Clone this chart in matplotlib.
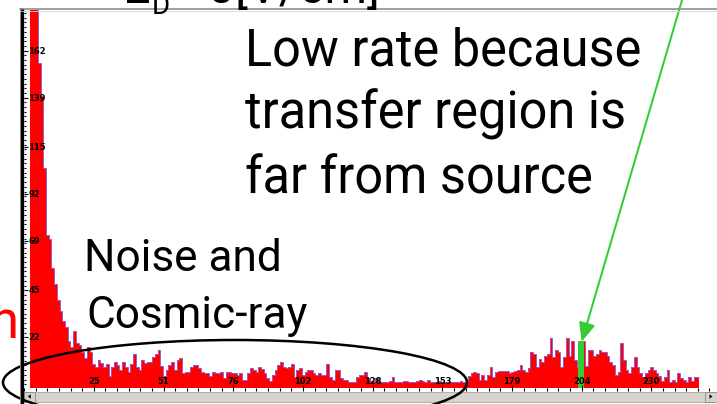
import numpy as np
import matplotlib
matplotlib.use("Agg")
import matplotlib.pyplot as plt
from matplotlib.patches import Ellipse, Rectangle, Polygon, FancyArrowPatch
from matplotlib.ticker import AutoMinorLocator

# ---------------- data ----------------
FIRST_CHANNEL = 2
counts = [
    245, 215, 190, 156, 140, 105, 72, 70,
    56, 48, 40, 35, 30, 27, 20, 17, 25, 19,
    18, 15, 12, 17, 15, 9, 7.5, 11, 9.5, 7.5,
    9, 3, 7.5, 10, 8.5, 6, 10, 7.5, 5, 9,
    14, 7.5, 6, 11, 9.5, 10, 10, 12.5, 14, 16,
    8, 3, 6, 8.5, 10, 6, 11, 12, 4.5, 5,
    5, 7.5, 8.5, 8.5, 7, 5, 4.5, 4.5, 3, 5,
    4.5, 4.5, 5, 2, 5, 5, 4.5, 4.5, 3.5, 4.5,
    1, 1, 4.5, 7, 6, 5, 7.5, 6.5, 4.5, 2,
    0.5, 3.5, 6, 8.5, 10, 7.5, 7, 7.5, 9, 2.5,
    6, 7, 3.5, 5, 6, 6, 4.5, 3.5, 4.5, 3.5,
    3.5, 9, 2.5, 1, 6, 6, 2, 1, 1, 0,
    0, 0, 2.5, 3.5, 3.5, 5, 2, 0.5, 0.5, 2,
    0, 0, 0, 0, 0.5, 2.5, 0, 0, 0, 0.5,
    0.5, 0, 0, 0, 0.5, 1, 0.5, 0, 1, 0,
    0, 0, 0.5, 0, 0, 0, 0, 0, 0, 0,
    0.5, 0, 0, 3, 4.5, 5, 4.5, 1, 3.5, 1,
    3.5, 7.5, 2.5, 5, 5.5, 5.5, 5.5, 5.5, 4.5, 5,
    5.5, 6, 8.5, 6, 5, 7, 15, 14, 7.5, 11.5,
    10, 13, 14, 21.5, 12.5, 16, 15, 7.5, 12.5, 21.5,
    13, 20, 11, 7.5, 20, 20, 8, 16, 16, 13,
    14, 16, 15, 15, 13, 10, 8.5, 3.5, 5, 19,
    11, 6, 4.5, 7.5, 12.5, 7.5, 4.5, 2.5, 4.5, 6,
    7.5, 6, 4.5, 3, 0.5, 2.5, 6, 0, 1, 0,
    4.5, 2, 1, 0, 2.5, 0.5, 2.5, 2.5,
]
N_CHANNELS = 256
X_DIVISIONS = 10
x_tick_labels = ["25", "51", "76", "102", "128", "153", "179", "204", "230"]
y_tick_values = [22, 45, 69, 92, 115, 139, 162]
cursor_channel = 204
cursor_count = 20

# ---------------- figure ----------------
W, H, DPI = 717, 404, 100
fig = plt.figure(figsize=(W / DPI, H / DPI), dpi=DPI)
fig.patch.set_facecolor("white")

# panel geometry (pixels from the top-left corner)
px_ch0 = 24.2
px_per_ch = 2.722
px_floor = 388.3
px_top = 10.0
px_zero = 382.2
px_per_count = 2.043
PT = 72.0 / DPI  # points per pixel

y_min = -(px_floor - px_zero) / px_per_count
y_max = (px_zero - px_top) / px_per_count

ax = fig.add_axes([px_ch0 / W, (H - px_floor) / H,
                   N_CHANNELS * px_per_ch / W, (px_floor - px_top) / H])
ax.set_xlim(0, N_CHANNELS)
ax.set_ylim(y_min, y_max)
for s in ax.spines.values():
    s.set_visible(False)
ax.set_facecolor("white")

edges = np.arange(FIRST_CHANNEL, FIRST_CHANNEL + len(counts) + 1)
ax.stairs(counts, edges, baseline=y_min, fill=True, color="#ff0000", zorder=1.0)
ax.stairs(counts, edges, baseline=None, color="#9b59c9", lw=0.7, zorder=1.2)

# cursor bar
ax.bar(cursor_channel + 0.5, cursor_count - y_min, width=2.2, bottom=y_min,
       color="#33cc33", zorder=1.4)

# axes (ticks and labels) drawn above the histogram
ax.set_axisbelow(False)
ax.xaxis.set_zorder(3)
ax.yaxis.set_zorder(3)

# x axis ticks
x_ticks = np.arange(1, X_DIVISIONS) * N_CHANNELS / X_DIVISIONS
ax.set_xticks(x_ticks, x_tick_labels)
ax.xaxis.set_minor_locator(AutoMinorLocator(6))
ax.tick_params(axis="x", which="major", direction="inout", length=6 * PT,
               width=0.8, pad=-10.0 * PT, labelsize=6)
ax.tick_params(axis="x", which="minor", direction="out", length=3 * PT, width=0.8)
for lbl in ax.get_xticklabels():
    lbl.set_va("center")
    lbl.set_fontweight("bold")

# y axis ticks (labels drawn inside the panel)
ax.set_yticks(y_tick_values, [str(v) for v in y_tick_values])
ax.yaxis.set_minor_locator(AutoMinorLocator(10))
ax.tick_params(axis="y", which="major", direction="in", length=4 * PT,
               width=0.8, pad=-4.3 * PT, labelsize=6)
ax.tick_params(axis="y", which="minor", direction="in", length=2 * PT, width=0.8)
for lbl in ax.get_yticklabels():
    lbl.set_ha("left")
    lbl.set_va("center")
    lbl.set_fontweight("bold")

# ---------------- overlay (pixel coordinates) ----------------
ov = fig.add_axes([0, 0, 1, 1], zorder=5)
ov.set_xlim(0, W)
ov.set_ylim(H, 0)
ov.axis("off")

# window frame
ov.plot([19.5, 19.5], [8, H], color="#a0a0a0", lw=1 * PT)
ov.plot([22.3, 22.3], [8, H], color="black", lw=3.3 * PT, solid_capstyle="butt")
ov.plot([20, W], [9.3, 9.3], color="#8c8c8c", lw=1.6 * PT)
ov.plot([20, W], [11.0, 11.0], color="#d8d8d8", lw=0.8 * PT)

# scroll bar
ov.add_patch(Rectangle((24, 391.5), W - 24, 10, fc="#d6d3ce", ec="#a8a6a0", lw=0.6))
ov.add_patch(Rectangle((24, 391.5), 11, 10, fc="#d6d3ce", ec="#8a8a8a", lw=0.6))
ov.add_patch(Polygon([(27.8, 396.5), (30.8, 394.3), (30.8, 398.7)], closed=True,
                     fc="black", ec="none"))
ov.add_patch(Rectangle((705, 391.5), 12, 10, fc="#d6d3ce", ec="#8a8a8a", lw=0.6))
ov.add_patch(Polygon([(712.5, 396.5), (709.5, 394.3), (709.5, 398.7)], closed=True,
                     fc="black", ec="none"))

# annotations
font = "Roboto"
ov.text(123, 3.3, "E", fontsize=35, family=font, va="baseline", ha="left")
ov.text(152, 14, "D", fontsize=20, family=font, va="baseline", ha="left")
ov.text(181, 3.3, "=0[V/cm]", fontsize=35, family=font, va="baseline", ha="left")

for i, line in enumerate(["Low rate because", "transfer region is", "far from source"]):
    ov.text(245, 65 + 64 * i, line, fontsize=36.4, family=font,
            va="baseline", ha="left", color="black")

ov.text(84.5, 270.7, "Noise and", fontsize=31.8, family=font, va="baseline", ha="left")
ov.text(86, 328.3, "Cosmic-ray", fontsize=31.8, family=font, va="baseline", ha="left")

ov.text(18.7, 338.3, "n", fontsize=38, family=font, va="baseline", ha="right",
        color="#ff0000")

ov.add_patch(Ellipse((235, 382.5), 464, 85, fill=False, ec="black", lw=2.5 * PT))

ov.add_patch(FancyArrowPatch((683.5, -5), (581.7, 341.7),
                             arrowstyle="-|>,head_length=1.15,head_width=0.5",
                             mutation_scale=10, color="#33cc33", lw=2 * PT,
                             shrinkA=0, shrinkB=0))

fig.savefig("out.png", dpi=DPI)
